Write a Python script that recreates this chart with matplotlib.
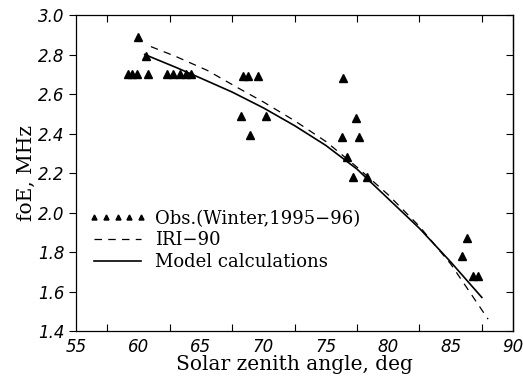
import matplotlib
matplotlib.use("Agg")
import matplotlib.pyplot as plt
from matplotlib.ticker import FixedLocator
from matplotlib.font_manager import FontProperties

# Observations (Winter, 1995-96)
obs_x = [59.2, 59.5, 59.9, 60.0, 60.6, 60.8, 62.3, 62.8, 63.3, 63.8, 64.2,
         68.4, 68.8, 69.6, 68.2, 70.2, 68.9, 76.4, 77.4, 76.3, 77.7, 76.7,
         77.2, 78.3, 86.3, 85.9, 86.8, 87.2]
obs_y = [2.70, 2.70, 2.70, 2.89, 2.79, 2.70, 2.70, 2.70, 2.70, 2.70, 2.70,
         2.69, 2.69, 2.69, 2.49, 2.49, 2.39, 2.68, 2.48, 2.38, 2.38, 2.28,
         2.18, 2.18, 1.87, 1.78, 1.68, 1.68]

# IRI-90
iri_x = [61.0, 63.0, 65.5, 68.0, 70.0, 72.5, 75.0, 77.5, 80.0, 82.5, 85.0, 88.0]
iri_y = [2.84, 2.79, 2.72, 2.63, 2.56, 2.465, 2.36, 2.23, 2.09, 1.93, 1.74, 1.46]

# Model calculations
mod_x = [60.5, 63.0, 65.0, 67.5, 70.0, 72.5, 75.0, 77.5, 80.0, 82.5, 85.0, 87.5]
mod_y = [2.80, 2.735, 2.68, 2.61, 2.53, 2.44, 2.34, 2.22, 2.07, 1.92, 1.75, 1.57]

xticks = [55, 60, 65, 70, 75, 80, 85, 90]
yticks = [1.4, 1.6, 1.8, 2.0, 2.2, 2.4, 2.6, 2.8, 3.0]

fig = plt.figure(figsize=(5.23, 3.82), dpi=100)
ax = fig.add_axes([0.1453, 0.1335, 0.8357, 0.8272])

ax.plot(obs_x, obs_y, linestyle="none", marker="^", color="black", ms=6,
        label="Obs.(Winter,1995\u221296)")
ax.plot(iri_x, iri_y, linestyle=(0, (6, 5)), color="black", lw=0.9,
        label="IRI\u221290")
ax.plot(mod_x, mod_y, linestyle="-", color="black", lw=1.2,
        label="Model calculations")

ax.set_xlim(55, 90)
ax.set_ylim(1.4, 3.0)
ax.set_xticks(xticks)
ax.set_xticklabels([str(v) for v in xticks])
ax.set_yticks(yticks)
ax.set_yticklabels([f"{v:.1f}" for v in yticks])
ax.xaxis.set_minor_locator(FixedLocator([57.5, 62.5, 67.5, 72.5, 77.5, 82.5, 87.5]))

tickfp = FontProperties(family="DejaVu Sans", style="italic", size=12)
for lab in ax.get_xticklabels() + ax.get_yticklabels():
    lab.set_fontproperties(tickfp)

ax.tick_params(axis="x", which="major", direction="in", length=0, pad=5)
ax.tick_params(axis="x", which="minor", direction="in", top=True, bottom=True,
               length=5, width=0.8)
ax.tick_params(axis="y", which="major", direction="out", length=5, width=0.8, pad=3)
sec = ax.secondary_yaxis("right")
sec.set_yticks(yticks)
sec.tick_params(direction="in", length=5, width=0.8, labelright=False)
sec.spines["right"].set_linewidth(0.9)

for s in ax.spines.values():
    s.set_linewidth(0.9)

labfont = dict(family="DejaVu Serif", size=14.5)
ax.set_xlabel("Solar zenith angle, deg", labelpad=-1, **labfont)
ax.set_ylabel("foE, MHz", labelpad=2, **labfont)

leg = ax.legend(loc="lower left", bbox_to_anchor=(0.0, 0.15), frameon=False,
                numpoints=5, markerscale=0.6, handlelength=3.2,
                handletextpad=0.5, labelspacing=0.2, borderaxespad=0.3,
                prop=dict(family="DejaVu Serif", size=13))

fig.savefig("out.png", dpi=100)
